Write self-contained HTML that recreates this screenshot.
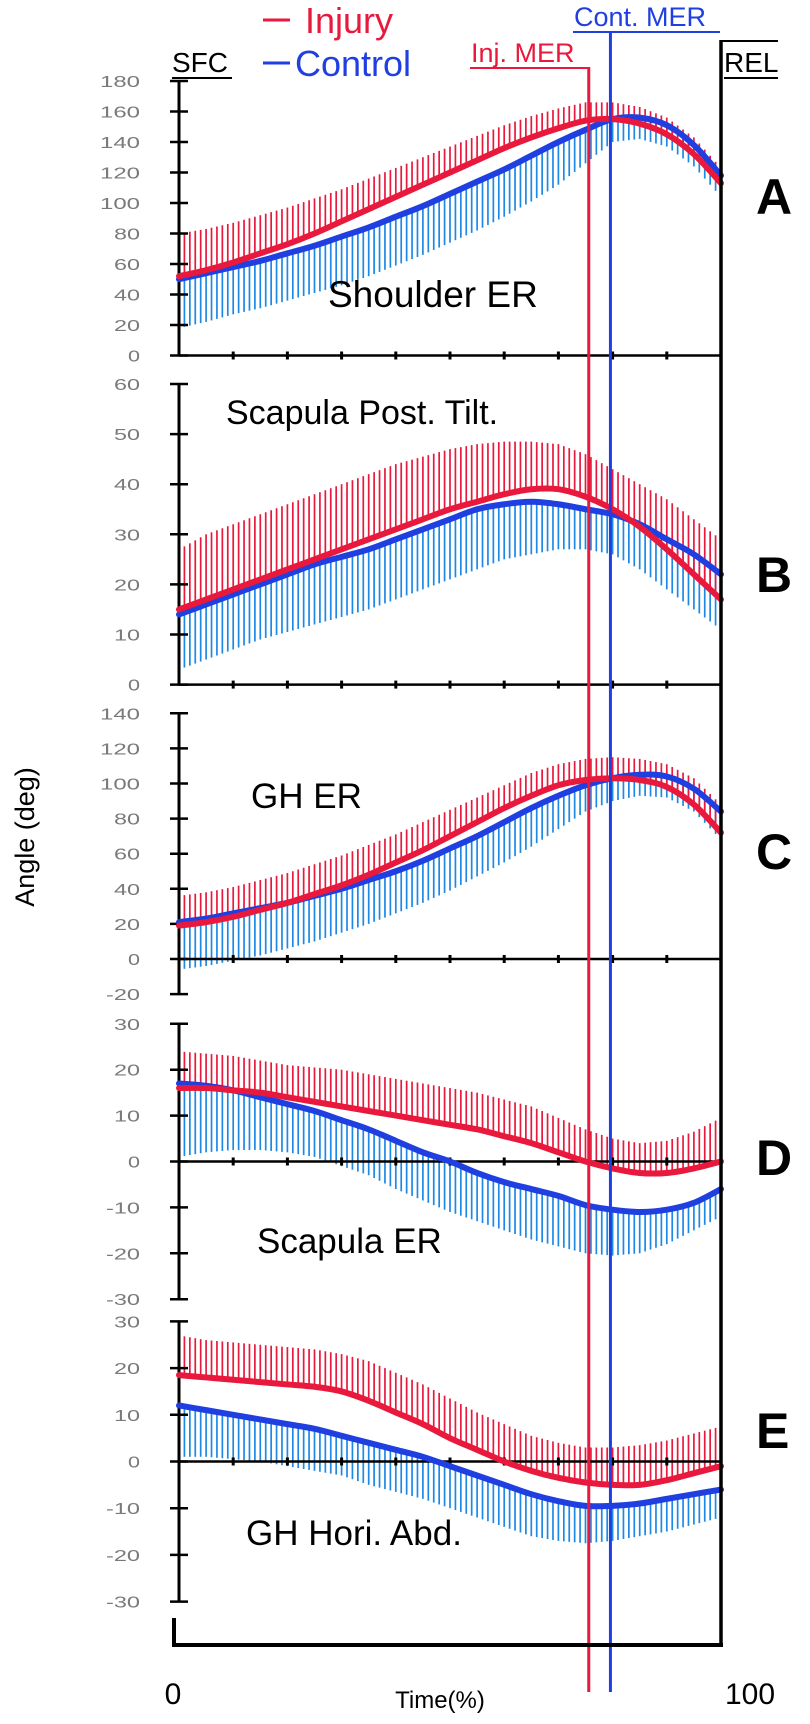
<!DOCTYPE html>
<html><head><meta charset="utf-8"><style>
html,body{margin:0;padding:0;background:#fff;}
svg{display:block;font-family:"Liberation Sans",Arial,sans-serif;}
</style></head><body>
<svg id="chart" width="810" height="1724" viewBox="0 0 810 1724" xmlns="http://www.w3.org/2000/svg">
<g id="layer"></g>
</svg>
<script>
// time axis samples (%)
const timePct = [0,5,10,15,20,25,30,35,40,45,50,55,60,65,70,75,80,85,90,95,100];
// Panel A - Shoulder ER
const aInjMean = [52,56,61,67,73,80,88,96,104,112,120,128,136,143,149,154,155,152,145,132,113];
const aCtlMean = [50,54,58,62,67,72,78,84,91,98,106,114,122,131,140,148,155,156,151,138,118];
const aInjUpper = [80,83,87,92,97,103,109,116,123,130,137,144,151,157,162,166,166,163,156,143,123];
const aCtlLower = [18,22,27,31,36,41,46,52,59,66,74,82,91,101,112,126,140,142,137,124,104];
const aTicks = [0,20,40,60,80,100,120,140,160,180];
// Panel B - Scapula Post. Tilt
const bInjMean = [15,17,19,21,23,25,27,29,31,33,35,36.5,38,39,39,37.5,35,31.5,27,22,17];
const bCtlMean = [14,16,18,20,22,24,25.5,27,29,31,33,35,36,36.5,36,35,34,32,29,26,22];
const bInjUpper = [27,30,32,34,36,38,40,42,44,45.5,47,48,48.5,48.5,48,46,43,40,37,33,29];
const bCtlLower = [3,5,7,9,10.5,12,13.5,15,17,19,21,23,25,26,27,27,26,23,19,15,11];
const bTicks = [0,10,20,30,40,50,60];
// Panel C - GH ER
const cInjMean = [19,21,24,28,32,37,42,48,55,62,70,78,86,93,99,102,103,102,98,88,72];
const cCtlMean = [21,23,26,29,32,36,40,45,50,56,63,70,78,86,93,99,103,105,104,97,84];
const cInjUpper = [36,38,41,45,49,54,59,65,71,78,85,92,99,106,111,114,115,114,111,103,88];
const cCtlLower = [-6,-4,-1,2,6,10,15,20,26,32,39,47,55,64,74,84,90,93,92,84,68];
const cTicks = [-20,0,20,40,60,80,100,120,140];
// Panel D - Scapula ER
const dInjMean = [16,16,15.5,15,14,13,12,11,10,9,8,7,5.5,4,2,0,-1.5,-2.5,-2.5,-1.5,0];
const dCtlMean = [17,16.5,15.5,14,12.5,11,9,7,4.5,2,0,-2.5,-4.5,-6,-7.5,-9.5,-10.5,-11,-10.5,-9,-6];
const dInjUpper = [24,23.5,23,22,21,20.5,20,19,18,17,16,15,13.5,12,9.5,7,5,4,4.5,6.5,9.5];
const dCtlLower = [1,2,2.5,2.5,2,1,-1,-3,-6,-8.5,-11,-13,-15,-17,-18.5,-20,-20.5,-20,-18,-15,-12];
const dTicks = [-30,-20,-10,0,10,20,30];
// Panel E - GH Hori. Abd.
const eInjMean = [18.5,18,17.5,17,16.5,16,15,13,10.5,8,5,2.5,0,-2,-3.5,-4.5,-5,-5,-4,-2.5,-1];
const eCtlMean = [12,11,10,9,8,7,5.5,4,2.5,1,-1,-3,-5,-7,-8.5,-9.5,-9.5,-9,-8,-7,-6];
const eInjUpper = [27,26,25.5,25,24.5,24,23,21.5,19,16.5,13.5,10.5,8,5.5,4,3,3,3.5,4.5,6,7.5];
const eCtlLower = [1,1,0.5,0,-1,-2,-3,-5,-6.5,-8,-10,-12,-14,-16,-17,-17.5,-17,-16,-15,-13.5,-12];
const eTicks = [-30,-20,-10,0,10,20,30];
// event markers (%)
const injMER = 75.6;
const ctlMER = 79.6;

const NS = "http://www.w3.org/2000/svg";
const layer = document.getElementById('layer');
const X0 = 179, X1 = 721;
const RED = "#e8193c", BLUE = "#1f3fe0", LBLUE = "#1e88e5";
function xs(p){ return X0 + (X1 - X0) * p / 100; }
function mk(tag, attrs, parent){
  const el = document.createElementNS(NS, tag);
  for (const k in attrs) el.setAttribute(k, attrs[k]);
  (parent || layer).appendChild(el);
  return el;
}
function interp(arr, p){
  const i = Math.min(Math.floor(p / 5), timePct.length - 2);
  const t = (p - timePct[i]) / 5;
  return arr[i] + (arr[i + 1] - arr[i]) * t;
}
function smoothPath(arr, ys){
  const pts = timePct.map((p, i) => [xs(p), ys(arr[i])]);
  let d = "M" + pts[0][0] + "," + pts[0][1];
  for (let i = 0; i < pts.length - 1; i++){
    const p0 = pts[Math.max(0, i - 1)], p1 = pts[i], p2 = pts[i + 1], p3 = pts[Math.min(pts.length - 1, i + 2)];
    const c1x = p1[0] + (p2[0] - p0[0]) / 6, c1y = p1[1] + (p2[1] - p0[1]) / 6;
    const c2x = p2[0] - (p3[0] - p1[0]) / 6, c2y = p2[1] - (p3[1] - p1[1]) / 6;
    d += " C" + c1x + "," + c1y + " " + c2x + "," + c2y + " " + p2[0] + "," + p2[1];
  }
  return d;
}
function panel(key, zeroY, unitPx, ticks, injMean, ctlMean, injUp, ctlLo){
  const ys = v => zeroY - v * unitPx;
  const g = mk('g', {});
  
  
  for (let p = 0; p <= 100; p++){
    const l = mk('line', {x1: xs(p), x2: xs(p), y1: ys(interp(ctlMean, p)), y2: ys(interp(ctlLo, p)), stroke: LBLUE, 'stroke-width': 1.7}, g);
    
    
  }
  for (let p = 0; p <= 100; p++){
    const l = mk('line', {x1: xs(p), x2: xs(p), y1: ys(interp(injMean, p)), y2: ys(interp(injUp, p)), stroke: RED, 'stroke-width': 1.7}, g);
    
    
  }
  const tmin = ticks[0], tmax = ticks[ticks.length - 1];
  const ax = mk('line', {x1: X0, x2: X0, y1: ys(tmax), y2: ys(tmin), stroke: '#000', 'stroke-width': 3}, g);
  
  
  ticks.forEach(t => {
    const tk = mk('line', {x1: X0 - 9, x2: X0 + 9, y1: ys(t), y2: ys(t), stroke: '#000', 'stroke-width': 2.5}, g);
    
    
    const label = (t < 0 ? '-' : '') + Math.abs(t);
    const w = 14 * String(Math.abs(t)).length + (t < 0 ? 8 : 0);
    const tx = mk('text', {x: 142 - w, y: ys(t) + 6, 'font-size': 16, fill: '#7a7a7a', textLength: w - 2, lengthAdjust: 'spacingAndGlyphs'}, g);
    tx.textContent = label;
    
    
  });
  const zl = mk('line', {x1: X0, x2: X1, y1: ys(0), y2: ys(0), stroke: '#000', 'stroke-width': 2.5}, g);
  
  
  for (let k = 1; k < 10; k++){
    const xt = mk('line', {x1: xs(k * 10), x2: xs(k * 10), y1: ys(0) - 4, y2: ys(0) + 4, stroke: '#000', 'stroke-width': 3}, g);
    
    
  }
  const cl = mk('path', {d: smoothPath(ctlMean, ys), fill: 'none', stroke: BLUE, 'stroke-width': 6, 'stroke-linecap': 'round'}, g);
  
  
  const il = mk('path', {d: smoothPath(injMean, ys), fill: 'none', stroke: RED, 'stroke-width': 6, 'stroke-linecap': 'round'}, g);
  
  
  return ys;
}
panel('a', 355.5, 30.5 / 20, aTicks, aInjMean, aCtlMean, aInjUpper, aCtlLower);
panel('b', 684.6, 5.01, bTicks, bInjMean, bCtlMean, bInjUpper, bCtlLower);
panel('c', 959, 35.1 / 20, cTicks, cInjMean, cCtlMean, cInjUpper, cCtlLower);
panel('d', 1161.5, 4.59, dTicks, dInjMean, dCtlMean, dInjUpper, dCtlLower);
panel('e', 1461.5, 4.67, eTicks, eInjMean, eCtlMean, eInjUpper, eCtlLower);

const ra = mk('line', {x1: X1, x2: X1, y1: 40, y2: 1646, stroke: '#000', 'stroke-width': 3.5});


const im = mk('line', {x1: xs(injMER), x2: xs(injMER), y1: 67, y2: 1692, stroke: RED, 'stroke-width': 3});


const cm = mk('line', {x1: xs(ctlMER), x2: xs(ctlMER), y1: 32, y2: 1692, stroke: BLUE, 'stroke-width': 3});


const bb = mk('path', {d: 'M174,1618 L174,1645 L723,1645', fill: 'none', stroke: '#000', 'stroke-width': 4});


</script>
<svg style="position:absolute;left:0;top:0" width="810" height="1724">
  <g font-family="Liberation Sans, Arial, sans-serif">
    <line x1="263" y1="20" x2="290" y2="20" stroke="#e8193c" stroke-width="3"/>
    <text x="305" y="33" font-size="36" fill="#e8193c">Injury</text>
    <line x1="263" y1="63" x2="290" y2="63" stroke="#1f3fe0" stroke-width="3"/>
    <text x="295" y="76" font-size="36" fill="#1f3fe0">Control</text>
    <text x="172" y="72" font-size="28" fill="#000">SFC</text>
    <line x1="172" y1="78" x2="232" y2="78" stroke="#000" stroke-width="2"/>
    <text x="724" y="72" font-size="28" fill="#000">REL</text>
    <line x1="721" y1="41" x2="778" y2="41" stroke="#000" stroke-width="2"/>
    <line x1="724" y1="78" x2="778" y2="78" stroke="#000" stroke-width="2"/>
    <text x="471" y="62" font-size="27" fill="#e8193c">Inj. MER</text>
    <line x1="470" y1="68" x2="588" y2="68" stroke="#e8193c" stroke-width="2"/>
    <text x="574" y="26" font-size="27" fill="#1f3fe0">Cont. MER</text>
    <line x1="573" y1="32" x2="720" y2="32" stroke="#1f3fe0" stroke-width="2"/>
    <text x="328" y="307" font-size="37">Shoulder ER</text>
    <text x="226" y="424" font-size="34">Scapula Post. Tilt.</text>
    <text x="251" y="808" font-size="35">GH ER</text>
    <text x="257" y="1253" font-size="35">Scapula ER</text>
    <text x="246" y="1545" font-size="35">GH Hori. Abd.</text>
    <text x="756" y="214" font-size="50" font-weight="bold">A</text>
    <text x="756" y="592" font-size="50" font-weight="bold">B</text>
    <text x="756" y="869" font-size="50" font-weight="bold">C</text>
    <text x="756" y="1175" font-size="50" font-weight="bold">D</text>
    <text x="756" y="1448" font-size="50" font-weight="bold">E</text>
    <text transform="translate(34,837) rotate(-90)" font-size="27" text-anchor="middle">Angle (deg)</text>
    <text x="173" y="1704" font-size="30" text-anchor="middle">0</text>
    <text x="750" y="1704" font-size="30" text-anchor="middle">100</text>
    <text x="440" y="1708" font-size="24" text-anchor="middle">Time(%)</text>
  </g>
</svg>
</body></html>
